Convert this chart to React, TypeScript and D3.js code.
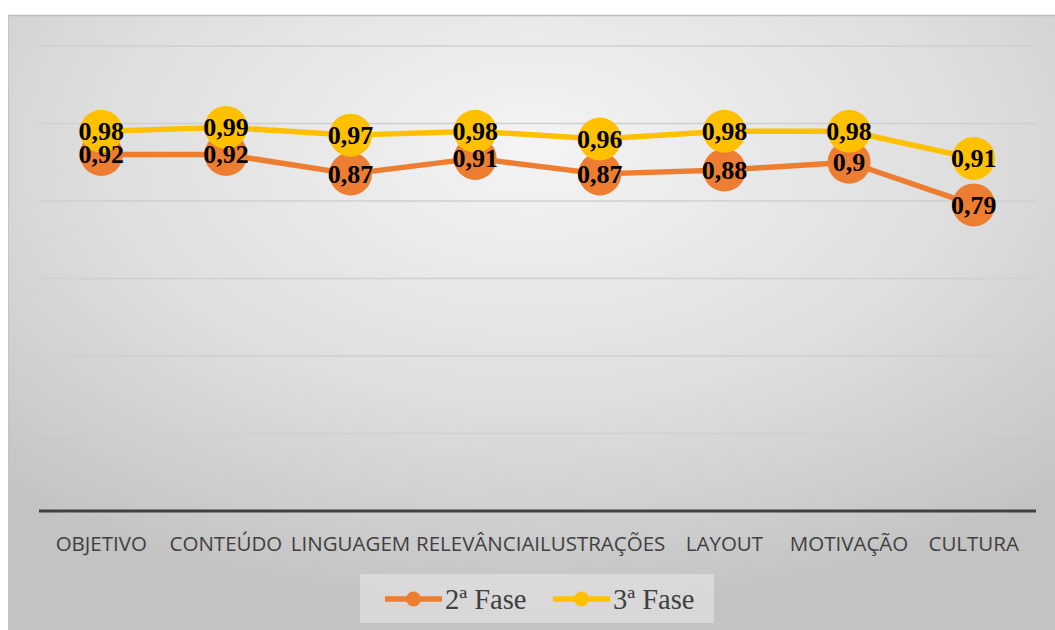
import React from "react";
import * as d3 from "d3";

const categories = ["OBJETIVO", "CONTEÚDO", "LINGUAGEM", "RELEVÂNCIA", "ILUSTRAÇÕES", "LAYOUT", "MOTIVAÇÃO", "CULTURA"];
const fase2 = [0.92, 0.92, 0.87, 0.91, 0.87, 0.88, 0.9, 0.79];
const fase3 = [0.98, 0.99, 0.97, 0.98, 0.96, 0.98, 0.98, 0.91];
const seriesNames = ["2ª Fase", "3ª Fase"];
const seriesColors = ["#ED7D31", "#FFC000"];
const yTicks = [0, 0.2, 0.4, 0.6, 0.8, 1.0, 1.2];

const fmt = (v: number) => String(v).replace(".", ",");

export default function App() {
  const W = 1055;
  const H = 630;
  const plot = { left: 39, right: 1036, top: 46, bottom: 511 };

  const x = d3.scaleBand<string>().domain(categories).range([plot.left, plot.right]);
  const y = d3.scaleLinear().domain([0, 1.2]).range([plot.bottom, plot.top]);
  const cx = (c: string) => (x(c) ?? 0) + x.bandwidth() / 2;

  const line = d3
    .line<number>()
    .x((_, i) => cx(categories[i]))
    .y((v) => y(v));

  const series = [fase2, fase3];

  return (
    <div style={{ position: "absolute", left: 0, top: 0 }}>
      <svg width={W} height={H} style={{ display: "block" }}>
        <defs>
          <radialGradient id="bg" cx="50%" cy="22%" r="75%" fx="50%" fy="22%">
            <stop offset="0%" stopColor="#f4f4f4" />
            <stop offset="55%" stopColor="#dedede" />
            <stop offset="100%" stopColor="#c3c3c3" />
          </radialGradient>
        </defs>
        <rect x={0} y={0} width={W} height={H} fill="#ffffff" />
        <rect x={9} y={15} width={W - 9} height={H - 15} fill="url(#bg)" />
        <line x1={9} x2={W} y1={15.5} y2={15.5} stroke="#bdbdbd" strokeWidth={1.5} />
        <line x1={8.5} x2={8.5} y1={15} y2={H} stroke="#c4c4c4" strokeWidth={1} />

        {/* gridlines */}
        {yTicks.slice(1).map((t) => (
          <line key={t} x1={plot.left} x2={plot.right} y1={y(t)} y2={y(t)} stroke="#cfcfcf" strokeWidth={1.5} />
        ))}
        {/* category axis */}
        <line x1={plot.left} x2={plot.right} y1={y(0)} y2={y(0)} stroke="#404040" strokeWidth={3} />
        {categories.map((c) => (
          <text
            key={c}
            x={cx(c)}
            y={551}
            textAnchor="middle"
            fontFamily="'Open Sans', sans-serif"
            fontSize={20.5}
            fill="#404040"
          >
            {c}
          </text>
        ))}

        {/* lines */}
        {series.map((s, si) => (
          <path key={si} d={line(s) ?? ""} fill="none" stroke={seriesColors[si]} strokeWidth={5.5} strokeLinejoin="round" />
        ))}
        {/* markers */}
        {series.map((s, si) =>
          s.map((v, i) => (
            <circle key={`${si}-${i}`} cx={cx(categories[i])} cy={y(v)} r={21.5} fill={seriesColors[si]} />
          ))
        )}
        {/* data labels */}
        {series.map((s, si) =>
          s.map((v, i) => (
            <text
              key={`l${si}-${i}`}
              x={cx(categories[i])}
              y={y(v)}
              dy="0.34em"
              textAnchor="middle"
              fontFamily="'Liberation Serif', 'Times New Roman', serif"
              fontWeight="bold"
              fontSize={26}
              fill="#000000"
            >
              {fmt(v)}
            </text>
          ))
        )}

        {/* legend */}
        <rect x={360} y={574} width={354} height={49} fill="#ffffff" fillOpacity={0.35} />
        {seriesNames.map((n, i) => {
          const lx = 385 + i * 168;
          return (
            <g key={n}>
              <line x1={lx} x2={lx + 57} y1={599} y2={599} stroke={seriesColors[i]} strokeWidth={5.5} />
              <circle cx={lx + 28.5} cy={599} r={7.5} fill={seriesColors[i]} />
              <text
                x={lx + 60}
                y={609}
                fontFamily="'Liberation Serif', 'Times New Roman', serif"
                fontSize={28.5}
                fill="#404040"
              >
                {n}
              </text>
            </g>
          );
        })}
      </svg>
    </div>
  );
}
